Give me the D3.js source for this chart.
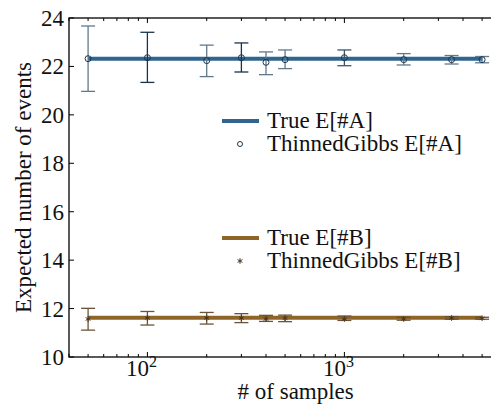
<!DOCTYPE html>
<html>
<head>
<meta charset="utf-8">
<script src="https://cdn.jsdelivr.net/npm/d3@7/dist/d3.min.js"></script>
<style>
  body { margin: 0; background: #fff; }
</style>
</head>
<body>
<svg id="chart" width="491" height="404"></svg>
<script>
// sample sizes on the x axis
const samples = [50, 100, 200, 300, 400, 500, 1000, 2000, 3500, 5000];

// series A: true value and ThinnedGibbs estimates with error bar ends
const trueA = 22.32;
const meanA = [22.32, 22.36, 22.24, 22.36, 22.17, 22.28, 22.36, 22.28, 22.28, 22.28];
const hiA   = [23.67, 23.41, 22.88, 22.97, 22.60, 22.68, 22.68, 22.53, 22.45, 22.41];
const loA   = [20.97, 21.34, 21.58, 21.77, 21.66, 21.91, 22.03, 22.06, 22.10, 22.15];

// series B
const trueB = 11.62;
const meanB = [11.57, 11.61, 11.61, 11.61, 11.57, 11.60, 11.57, 11.57, 11.61, 11.60];
const hiB   = [12.01, 11.88, 11.84, 11.79, 11.72, 11.73, 11.69, 11.64, 11.66, 11.64];
const loB   = [11.11, 11.32, 11.36, 11.42, 11.47, 11.46, 11.51, 11.52, 11.56, 11.56];

const yTicks = [10, 12, 14, 16, 18, 20, 22, 24];
const xMajor = [100, 1000];
const legendLabels = ['True E[#A]', 'ThinnedGibbs E[#A]', 'True E[#B]', 'ThinnedGibbs E[#B]'];

const colA = '#2f6690', markA = '#1b3852';
const errA = ['#62798b', '#18344c', '#62798b', '#18344c', '#62798b', '#62798b', '#3b556a', '#62798b', '#62798b', '#62798b'];
const colB = '#8e6428', markB = '#4b3720', errB = '#6b5438';
const serif = "'Liberation Serif', 'Times New Roman', Times, 'DejaVu Serif', serif";

const svg = d3.select('#chart').style('font-family', serif);
const pLeft = 69, pTop = 18, pBottom = 357;

const x = d3.scaleLog().domain([40, 8000]).range([pLeft, pLeft + 197 * Math.log10(200)]);
const y = d3.scaleLinear().domain([10, 24]).range([pBottom, pTop]);
const pRight = x.range()[1];

const g = svg.append('g');

function label(sel) {
  return sel.append('text').attr('font-family', serif).style('font-family', serif).attr('fill', '#111');
}

// minor log ticks
const minor = [];
[10, 100, 1000].forEach(d => { for (let k = 2; k <= 9; k++) minor.push(d * k); });
const minorIn = minor.filter(v => v >= 40 && v <= 8000);

// frame
g.append('rect').attr('x', pLeft).attr('y', pTop)
  .attr('width', pRight - pLeft).attr('height', pBottom - pTop)
  .attr('fill', 'none').attr('stroke', '#000').attr('stroke-width', 1.3);

// ticks (pointing inward)
yTicks.forEach(v => {
  g.append('line').attr('x1', pLeft).attr('x2', pLeft + 5).attr('y1', y(v)).attr('y2', y(v)).attr('stroke', '#000');
  g.append('line').attr('x1', pRight).attr('x2', pRight - 5).attr('y1', y(v)).attr('y2', y(v)).attr('stroke', '#000');
  label(g).attr('x', 64).attr('y', y(v) + 8).attr('text-anchor', 'end')
    .attr('font-size', 23).text(v);
});
xMajor.forEach(v => {
  g.append('line').attr('x1', x(v)).attr('x2', x(v)).attr('y1', pBottom).attr('y2', pBottom - 5).attr('stroke', '#000');
  g.append('line').attr('x1', x(v)).attr('x2', x(v)).attr('y1', pTop).attr('y2', pTop + 5).attr('stroke', '#000');
  const t = label(g).attr('x', x(v) - 6).attr('y', 376).attr('text-anchor', 'middle').attr('font-size', 23);
  t.append('tspan').text('10');
  t.append('tspan').attr('dy', -9).attr('font-size', 16).text(Math.round(Math.log10(v)));
});
minorIn.forEach(v => {
  g.append('line').attr('x1', x(v)).attr('x2', x(v)).attr('y1', pBottom).attr('y2', pBottom - 3).attr('stroke', '#000');
  g.append('line').attr('x1', x(v)).attr('x2', x(v)).attr('y1', pTop).attr('y2', pTop + 3).attr('stroke', '#000');
});

// true lines
g.append('line').attr('x1', x(samples[0])).attr('x2', x(samples[samples.length - 1]))
  .attr('y1', y(trueA)).attr('y2', y(trueA)).attr('stroke', colA).attr('stroke-width', 4);
g.append('line').attr('x1', x(samples[0])).attr('x2', x(samples[samples.length - 1]))
  .attr('y1', y(trueB)).attr('y2', y(trueB)).attr('stroke', colB).attr('stroke-width', 4);

// error bars
function errorBars(hi, lo, colorOf, cap) {
  samples.forEach((s, i) => {
    const cx = x(s);
    const c = colorOf(i);
    g.append('line').attr('x1', cx).attr('x2', cx).attr('y1', y(hi[i])).attr('y2', y(lo[i])).attr('stroke', c).attr('stroke-width', 1.3);
    [hi[i], lo[i]].forEach(v => {
      g.append('line').attr('x1', cx - cap).attr('x2', cx + cap).attr('y1', y(v)).attr('y2', y(v)).attr('stroke', c).attr('stroke-width', 1.3);
    });
  });
}
errorBars(hiA, loA, i => errA[i], 7);
errorBars(hiB, loB, () => errB, 7);

// markers
samples.forEach((s, i) => {
  g.append('circle').attr('cx', x(s)).attr('cy', y(meanA[i])).attr('r', 3)
    .attr('fill', 'none').attr('stroke', markA).attr('stroke-width', 1);
});
const star = d3.symbol().type(d3.symbolAsterisk || d3.symbolCross).size(22);
samples.forEach((s, i) => {
  g.append('path').attr('d', star()).attr('transform', `translate(${x(s)},${y(meanB[i])})`)
    .attr('fill', markB).attr('stroke', markB).attr('stroke-width', 1);
});

// legend
const lx = 222, lw = 37, tx = 267;
const legRows = [
  { yy: 121, type: 'line', color: colA },
  { yy: 144, type: 'circle', color: markA },
  { yy: 238, type: 'line', color: colB },
  { yy: 261, type: 'star', color: markB },
];
legRows.forEach((r, i) => {
  if (r.type === 'line') {
    g.append('line').attr('x1', lx).attr('x2', lx + lw).attr('y1', r.yy).attr('y2', r.yy)
      .attr('stroke', r.color).attr('stroke-width', 4);
  } else if (r.type === 'circle') {
    g.append('circle').attr('cx', 240).attr('cy', r.yy).attr('r', 2.5)
      .attr('fill', 'none').attr('stroke', r.color).attr('stroke-width', 1);
  } else {
    g.append('path').attr('d', star()).attr('transform', `translate(240,${r.yy})`)
      .attr('fill', r.color).attr('stroke', r.color).attr('stroke-width', 1);
  }
  label(g).attr('x', tx).attr('y', r.yy + 7).attr('font-size', 23).text(legendLabels[i]);
});

// axis labels
label(svg).attr('x', (pLeft + pRight) / 2).attr('y', 399).attr('text-anchor', 'middle')
  .attr('font-size', 23).text('# of samples');
label(svg).attr('transform', `translate(31,${(pTop + pBottom) / 2}) rotate(-90)`)
  .attr('text-anchor', 'middle').attr('font-size', 23).text('Expected number of events');
</script>
</body>
</html>
